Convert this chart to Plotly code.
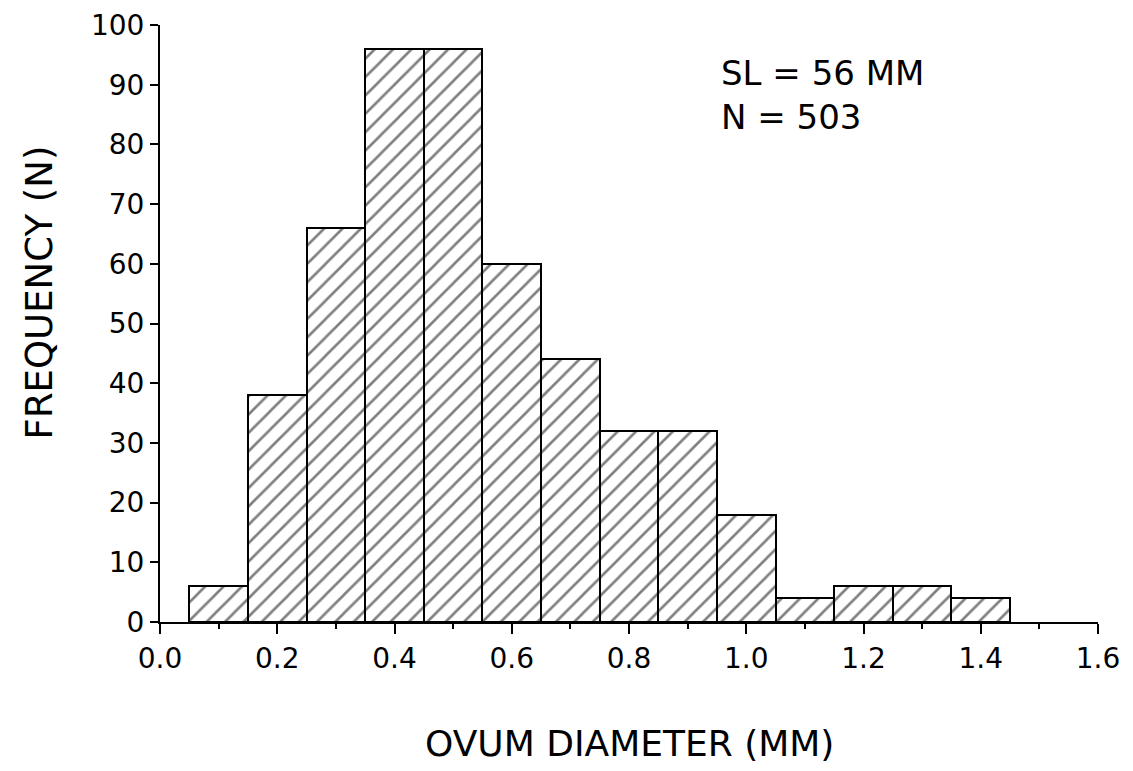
import plotly.graph_objects as go

bin_centers = [0.1, 0.2, 0.3, 0.4, 0.5, 0.6, 0.7, 0.8, 0.9, 1.0, 1.1, 1.2, 1.3, 1.4]
frequency = [6, 38, 66, 96, 96, 60, 44, 32, 32, 18, 4, 6, 6, 4]
x_ticks = [0.0, 0.2, 0.4, 0.6, 0.8, 1.0, 1.2, 1.4, 1.6]
x_ticklabels = ["0.0", "0.2", "0.4", "0.6", "0.8", "1.0", "1.2", "1.4", "1.6"]
y_ticks = [0, 10, 20, 30, 40, 50, 60, 70, 80, 90, 100]

FONT = "DejaVu Sans"

fig = go.Figure()
fig.add_trace(go.Bar(
    x=bin_centers,
    y=frequency,
    width=0.1,
    marker=dict(
        color="white",
        line=dict(color="black", width=2),
        pattern=dict(shape="/", fgcolor="black", bgcolor="white", size=13, solidity=0.2),
    ),
    showlegend=False,
))

fig.add_annotation(
    x=0.6, y=0.957, xref="paper", yref="paper", xanchor="left", yanchor="top",
    xshift=-4, showarrow=False, align="left",
    text="SL = 56 MM<br>N = 503",
    font=dict(family=FONT, size=34, color="black"),
)
fig.add_annotation(
    x=0.501, y=-0.204, xref="paper", yref="paper", xanchor="center", yanchor="middle",
    showarrow=False, text="OVUM DIAMETER (MM)",
    font=dict(family=FONT, size=36, color="black"),
)
fig.add_annotation(
    x=-0.128, y=0.552, xref="paper", yref="paper", xanchor="center", yanchor="middle",
    showarrow=False, text="FREQUENCY (N)", textangle=-90,
    font=dict(family=FONT, size=37, color="black"),
)

fig.update_layout(
    width=1117, height=763,
    margin=dict(l=152, r=27, t=17, b=149),
    paper_bgcolor="white", plot_bgcolor="white",
    bargap=0,
    font=dict(family=FONT, color="black"),
    xaxis=dict(
        range=[0, 1.6], tickvals=x_ticks, ticktext=x_ticklabels, automargin=False,
        showgrid=False, zeroline=False, showline=True, linecolor="black", linewidth=2,
        ticks="outside", ticklen=10, tickwidth=2, tickcolor="black",
        minor=dict(dtick=0.1, tick0=0, ticks="outside", ticklen=5, tickwidth=2, tickcolor="black"),
        tickfont=dict(family=FONT, size=28, color="black"),
    ),
    yaxis=dict(
        range=[0, 100], tickvals=y_ticks, automargin=False,
        showgrid=False, zeroline=False, showline=True, linecolor="black", linewidth=2,
        ticks="outside", ticklen=8, tickwidth=2, tickcolor="black",
        tickfont=dict(family=FONT, size=28, color="black"),
    ),
)

fig.write_html("out.html")
